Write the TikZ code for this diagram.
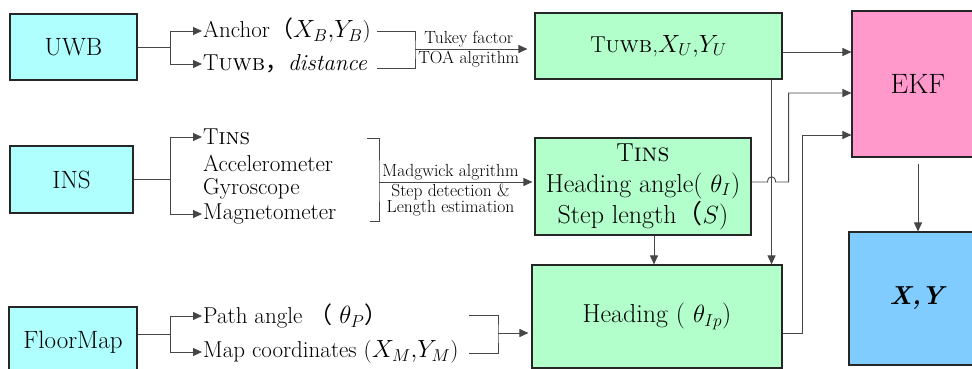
\documentclass[tikz,border=0pt]{standalone}
\usepackage{fontspec}
\newfontfamily\cjk{Noto Sans CJK SC}
\usetikzlibrary{calc,arrows.meta}

\definecolor{srccyan}{RGB}{175,255,255}
\definecolor{procgreen}{RGB}{179,255,204}
\definecolor{ekfpink}{RGB}{255,153,204}
\definecolor{outblue}{RGB}{128,204,255}
\definecolor{wirec}{RGB}{70,70,70}

\tikzset{
  srcbox/.style={draw=black!85, line width=1.1pt, fill=srccyan, font=\fontsize{25}{28}\selectfont},
  procbox/.style={draw=black!85, line width=1.1pt, fill=procgreen, align=center, font=\fontsize{26}{31}\selectfont},
  item/.style={anchor=west, inner sep=1pt, font=\fontsize{23}{24}\selectfont},
  note/.style={inner sep=1.5pt, font=\fontsize{17.5}{16}\selectfont},
  wire/.style={draw=wirec, line width=0.9pt},
  flow/.style={wire, -{Triangle[length=9pt,width=8pt]}}
}

\begin{document}
\begin{tikzpicture}[x=1pt,y=-1pt]
\useasboundingbox (0,0) rectangle (972,369);
\clip (0,0) rectangle (972,369);

% Sources
\node[srcbox, minimum width=127, minimum height=66] (uwb) at (73.5,47) {UWB};
\node[srcbox, minimum width=123, minimum height=67] (ins) at (71.5,179.5) {INS};
\node[srcbox, minimum width=128, minimum height=70] (floor) at (73,342) {FloorMap};

% Measured quantities
\node[item] (anc) at (202,31) {Anchor{\cjk （}$X_B{,}Y_B$)};
\node[item] (tdist) at (202,64) {T\textsc{uwb}{\cjk ，}\textit{distance}};
\node[item] (tinsl) at (202,137) {T\textsc{ins}};
\node[item] (acc) at (202,163) {Accelerometer};
\node[item] (gyro) at (202,189) {Gyroscope};
\node[item] (mag) at (202,214) {Magnetometer};
\node[item] (path) at (202,316) {Path angle {\cjk （} $\theta_P${\cjk ）}};
\node[item] (mapc) at (202,352) {Map coordinates ($X_M{,}Y_M$)};

% Processing blocks
\node[procbox, minimum width=247, minimum height=66, font=\fontsize{23}{28}\selectfont] (tuwb) at (658.5,46) {T\textsc{uwb},$X_U{,}Y_U$};
\node[procbox, minimum width=216, minimum height=97] (tins) at (643,186.5) {T\textsc{ins}\\Heading angle( $\theta_I$)\\Step length{\cjk （}$S$)};
\node[procbox, minimum width=250, minimum height=103] (head) at (657,316.5) {Heading ( $\theta_{Ip}$)};

% Fusion and output
\node[draw=black!85, line width=1.1pt, fill=ekfpink, minimum width=132, minimum height=146,
      font=\fontsize{28}{30}\selectfont] (ekf) at (918,84) {EKF};
\node[draw=black!85, line width=1.1pt, fill=outblue, minimum width=138, minimum height=133,
      font=\fontsize{26}{30}\selectfont] (xy) at (918,298.5) {\textbf{\textit{X,Y}}};

% Forks
\draw[wire] (uwb.east) -- ++(33,0) coordinate (uwbfork);
\draw[flow] (uwbfork) |- (anc.west);
\draw[flow] (uwbfork) |- (tdist.west);
\draw[wire] (ins.east) -- ++(37,0) coordinate (insfork);
\draw[flow] (insfork) |- (tinsl.west);
\draw[flow] (insfork) |- (mag.west);
\draw[wire] ($(floor.east)+(0,-8)$) -- ++(33,0) coordinate (floorfork);
\draw[flow] (floorfork) |- (path.west);
\draw[flow] (floorfork) |- (mapc.west);

% Brackets
\coordinate (uwbtop) at (377,31);
\coordinate (uwbbot) at (377,68);
\coordinate (uwbjoin) at (415,49);
\draw[wire] (uwbtop) -| (uwbjoin) |- (uwbbot);
\draw[flow, shorten >=7pt] (uwbjoin) -- (uwbjoin -| tuwb.west)
  node[note, above, pos=0.45] {Tukey factor}
  node[note, below, pos=0.45] {TOA algrithm};

\coordinate (instop) at (367,138);
\coordinate (insbot) at (370,221);
\coordinate (insjoin) at (379,182);
\draw[wire] (instop) -| (insjoin) |- (insbot);
\draw[flow, shorten >=2pt] (insjoin) -- (insjoin -| tins.west)
  node[note, above, pos=0.46] {Madgwick algrithm}
  node[note, below, align=center, pos=0.46] {Step detection \&\\Length estimation};

\coordinate (floortop) at (469,315);
\coordinate (floorbot) at (469,353);
\coordinate (floorjoin) at (498,333);
\draw[wire] (floortop) -| (floorjoin) |- (floorbot);
\draw[flow, shorten >=3pt] (floorjoin) -- (floorjoin -| head.west);

% Into the EKF
\coordinate (tuwbout) at ($(tuwb.east)+(0,6)$);
\draw[flow] (tuwbout) -- (tuwbout -| ekf.west);
\coordinate (tuwbdown) at ($(tuwb.south east)+(-11,0)$);
\draw[flow] (tuwbdown) -- (tuwbdown |- head.north);
\coordinate (tinsout) at ($(tins.east)+(0,-4.5)$);
\draw[flow] (tinsout) -- ($(tinsout -| tuwbdown)+(-4,0)$)
  .. controls +(0,-7) and +(0,-7) .. ($(tinsout -| tuwbdown)+(4,0)$)
  -- ++(13,0) |- ($(ekf.west)+(0,9)$);
\coordinate (tinsdown) at ($(tins.south)+(11,0)$);
\draw[flow] (tinsdown) -- (tinsdown |- head.north);
\coordinate (headout) at ($(head.east)+(0,17)$);
\draw[flow] (headout) -- ++(20,0) |- ($(ekf.west)+(0,51)$);
\draw[flow, shorten <=6pt] (ekf.south) -- (xy.north);
\end{tikzpicture}
\end{document}
